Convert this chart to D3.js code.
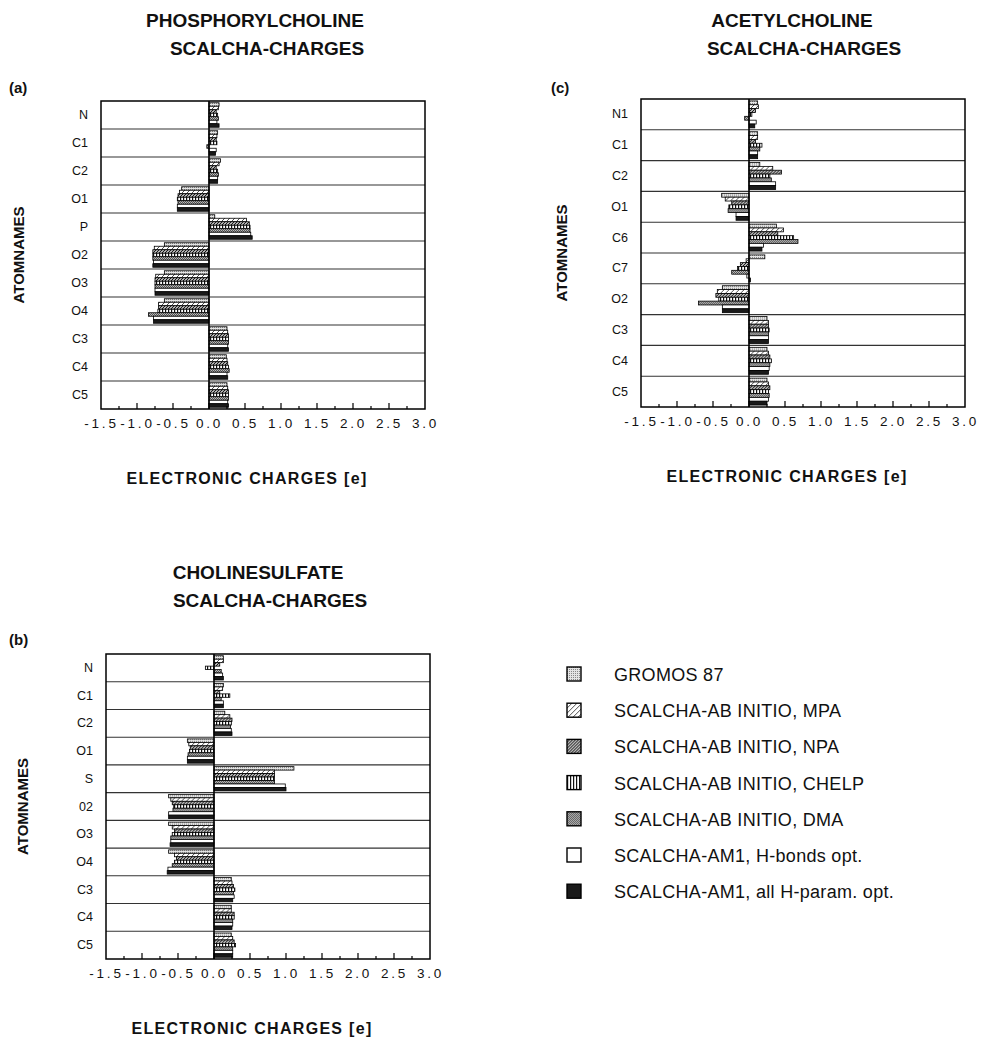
<!DOCTYPE html>
<html>
<head>
<meta charset="utf-8">
<script src="https://cdn.jsdelivr.net/npm/d3@7"></script>
<style>
body { margin: 0; background: #fff; }
svg text { font-family: "Liberation Sans", Arial, sans-serif; fill: #111; }
.title { font-size: 19px; font-weight: bold; }
.plabel { font-size: 15px; font-weight: bold; }
.ytitle { font-size: 15px; font-weight: bold; }
.xtitle { font-size: 16px; font-weight: bold; letter-spacing: 1.3px; }
.rowlab { font-size: 12.5px; }
.tick text { font-size: 13.5px; letter-spacing: 2.8px; }
.legtxt { font-size: 18px; letter-spacing: 0.3px; }
</style>
</head>
<body>
<svg id="chart" width="982" height="1043"></svg>
<script>
// series (same order top -> bottom inside every row)
var series = ["GROMOS 87", "SCALCHA-AB INITIO, MPA", "SCALCHA-AB INITIO, NPA",
  "SCALCHA-AB INITIO, CHELP", "SCALCHA-AB INITIO, DMA",
  "SCALCHA-AM1, H-bonds opt.", "SCALCHA-AM1, all H-param. opt."];

var xTicks = [-1.5, -1.0, -0.5, 0.0, 0.5, 1.0, 1.5, 2.0, 2.5, 3.0];

// (a) phosphorylcholine
var atomsA = ["N", "C1", "C2", "O1", "P", "O2", "O3", "O4", "C3", "C4", "C5"];
var chargesA = [
  [0.14, 0.13, 0.10, 0.12, 0.13, 0.11, 0.14],
  [0.12, 0.11, 0.10, 0.11, -0.03, 0.10, 0.09],
  [0.16, 0.14, 0.10, 0.12, 0.13, 0.12, 0.12],
  [-0.38, -0.41, -0.43, -0.44, -0.43, -0.44, -0.44],
  [0.08, 0.52, 0.56, 0.57, 0.57, 0.58, 0.60],
  [-0.62, -0.76, -0.78, -0.78, -0.78, -0.77, -0.78],
  [-0.62, -0.74, -0.75, -0.75, -0.75, -0.75, -0.75],
  [-0.62, -0.70, -0.70, -0.71, -0.84, -0.77, -0.77],
  [0.25, 0.26, 0.27, 0.27, 0.27, 0.26, 0.27],
  [0.24, 0.25, 0.26, 0.27, 0.28, 0.25, 0.26],
  [0.25, 0.26, 0.27, 0.27, 0.27, 0.26, 0.27]
];

// (c) acetylcholine
var atomsC = ["N1", "C1", "C2", "O1", "C6", "C7", "O2", "C3", "C4", "C5"];
var chargesC = [
  [0.12, 0.13, 0.09, 0.04, -0.06, 0.10, 0.08],
  [0.12, 0.12, 0.09, 0.18, 0.15, 0.12, 0.12],
  [0.15, 0.33, 0.45, 0.29, 0.31, 0.37, 0.37],
  [-0.38, -0.33, -0.24, -0.28, -0.29, -0.18, -0.18],
  [0.38, 0.48, 0.40, 0.62, 0.68, 0.20, 0.18],
  [0.22, -0.04, -0.12, -0.16, -0.24, -0.03, 0.02],
  [-0.37, -0.44, -0.46, -0.42, -0.70, -0.37, -0.37],
  [0.25, 0.27, 0.27, 0.28, 0.27, 0.27, 0.27],
  [0.25, 0.27, 0.29, 0.31, 0.29, 0.28, 0.27],
  [0.25, 0.27, 0.29, 0.27, 0.28, 0.27, 0.25]
];

// (b) cholinesulfate
var atomsB = ["N", "C1", "C2", "O1", "S", "02", "O3", "O4", "C3", "C4", "C5"];
var chargesB = [
  [0.13, 0.13, 0.08, -0.12, 0.10, 0.12, 0.13],
  [0.13, 0.12, 0.08, 0.22, 0.10, 0.13, 0.13],
  [0.15, 0.22, 0.25, 0.24, 0.23, 0.24, 0.25],
  [-0.37, -0.35, -0.33, -0.34, -0.36, -0.37, -0.37],
  [1.11, 0.84, 0.84, 0.84, 0.84, 0.99, 1.00],
  [-0.63, -0.60, -0.58, -0.56, -0.57, -0.63, -0.63],
  [-0.63, -0.58, -0.55, -0.58, -0.60, -0.60, -0.61],
  [-0.63, -0.55, -0.52, -0.55, -0.58, -0.64, -0.65],
  [0.24, 0.25, 0.27, 0.29, 0.27, 0.28, 0.26],
  [0.24, 0.24, 0.28, 0.28, 0.26, 0.26, 0.25],
  [0.24, 0.26, 0.28, 0.30, 0.26, 0.26, 0.26]
];

var svg = d3.select("#chart");
var defs = svg.append("defs");

// fill patterns, one per series
function pat(id, w, h, bg) {
  var p = defs.append("pattern").attr("id", id).attr("patternUnits", "userSpaceOnUse")
    .attr("width", w).attr("height", h);
  p.append("rect").attr("width", w).attr("height", h).attr("fill", bg);
  return p;
}
var p0 = pat("p0", 2, 2, "#e4e4e4");
p0.append("rect").attr("width", 1).attr("height", 1).attr("fill", "#888");
var p1 = pat("p1", 5, 5, "#fff");
p1.append("path").attr("d", "M0,5L5,0").attr("stroke", "#222").attr("stroke-width", 0.8);
var p2 = pat("p2", 3, 3, "#fff");
p2.append("path").attr("d", "M0,3L3,0M-1,1L1,-1M2,4L4,2").attr("stroke", "#111").attr("stroke-width", 1.2);
var p3 = pat("p3", 3, 3, "#fff");
p3.append("rect").attr("width", 1.2).attr("height", 3).attr("fill", "#111");
var p4 = pat("p4", 2, 2, "#555");
p4.append("rect").attr("width", 1).attr("height", 1).attr("fill", "#bbb");
p4.append("rect").attr("x", 1).attr("y", 1).attr("width", 1).attr("height", 1).attr("fill", "#bbb");
var fills = ["url(#p0)", "url(#p1)", "url(#p2)", "url(#p3)", "url(#p4)", "#fff", "#1a1a1a"];

function drawPanel(cfg) {
  var x = d3.scaleLinear().domain([-1.5, 3.0]).range([cfg.left, cfg.left + 324]);
  var y = d3.scaleBand().domain(cfg.atoms).range([cfg.top, cfg.bottom]);
  var yi = d3.scaleBand().domain(d3.range(series.length)).range([0, y.bandwidth()]).paddingOuter(0.5);
  var g = svg.append("g");

  // titles
  g.append("text").attr("class", "title").attr("x", cfg.tx).attr("y", cfg.ty)
    .attr("text-anchor", "middle").text(cfg.title);
  g.append("text").attr("class", "title").attr("x", cfg.tx + 12).attr("y", cfg.ty + 28)
    .attr("text-anchor", "middle").text("SCALCHA-CHARGES");
  g.append("text").attr("class", "plabel").attr("x", cfg.lx).attr("y", cfg.ly).text(cfg.label);

  // row separators
  g.selectAll(".sep").data(cfg.atoms.slice(1)).join("line")
    .attr("x1", cfg.left).attr("x2", x(3.0))
    .attr("y1", d => y(d)).attr("y2", d => y(d))
    .attr("stroke", "#333").attr("stroke-width", 1.1);

  // bars
  var rows = g.selectAll(".row").data(cfg.atoms).join("g")
    .attr("transform", d => "translate(0," + y(d) + ")");
  rows.selectAll("rect").data((d, i) => cfg.values[i].map((v, k) => ({ v: v, k: k })))
    .join("rect")
    .attr("x", d => x(Math.min(0, d.v)))
    .attr("width", d => Math.abs(x(d.v) - x(0)))
    .attr("y", d => yi(d.k))
    .attr("height", yi.bandwidth())
    .attr("fill", d => fills[d.k])
    .attr("stroke", "#000").attr("stroke-width", 0.8);

  // zero line
  g.append("line").attr("x1", x(0)).attr("x2", x(0)).attr("y1", cfg.top).attr("y2", cfg.bottom)
    .attr("stroke", "#000").attr("stroke-width", 1.6);

  // frame
  g.append("rect").attr("x", cfg.left).attr("y", cfg.top)
    .attr("width", x(3.0) - cfg.left).attr("height", cfg.bottom - cfg.top)
    .attr("fill", "none").attr("stroke", "#000").attr("stroke-width", 1.5);

  // minor ticks inside the bottom frame
  var minor = d3.range(-1.25, 3.0, 0.25);
  g.selectAll(".mt").data(minor).join("line")
    .attr("x1", d => x(d)).attr("x2", d => x(d))
    .attr("y1", cfg.bottom).attr("y2", d => cfg.bottom - (Math.abs(d * 2 - Math.round(d * 2)) < 1e-6 ? 6 : 3))
    .attr("stroke", "#000").attr("stroke-width", 1.2);

  // x tick labels
  var ax = g.append("g").attr("transform", "translate(0," + cfg.bottom + ")")
    .call(d3.axisBottom(x).tickValues(xTicks).tickFormat(d => d.toFixed(1)).tickSize(0).tickPadding(9));
  ax.select(".domain").remove();
  ax.selectAll("text").attr("fill", "#111").attr("font-family", null).attr("font-size", null);

  // row labels
  g.selectAll(".rl").data(cfg.atoms).join("text").attr("class", "rowlab")
    .attr("x", cfg.left - 13).attr("y", d => y(d) + y.bandwidth() / 2 + 4)
    .attr("text-anchor", "end").text(d => d);

  // axis titles
  g.append("text").attr("class", "ytitle").attr("text-anchor", "middle")
    .attr("transform", "translate(" + cfg.yx + "," + ((cfg.top + cfg.bottom) / 2) + ") rotate(-90)")
    .text("ATOMNAMES");
  g.append("text").attr("class", "xtitle").attr("text-anchor", "middle")
    .attr("x", cfg.left + 146).attr("y", cfg.bottom + 75).text("ELECTRONIC CHARGES [e]");
}

drawPanel({ atoms: atomsA, values: chargesA, left: 101, top: 101, bottom: 409,
  title: "PHOSPHORYLCHOLINE", tx: 255, ty: 27, label: "(a)", lx: 9, ly: 93, yx: 24 });
drawPanel({ atoms: atomsC, values: chargesC, left: 641, top: 99, bottom: 407,
  title: "ACETYLCHOLINE", tx: 792, ty: 27, label: "(c)", lx: 551, ly: 93, yx: 567 });
drawPanel({ atoms: atomsB, values: chargesB, left: 106, top: 654, bottom: 959,
  title: "CHOLINESULFATE", tx: 258, ty: 579, label: "(b)", lx: 9, ly: 645, yx: 28 });

// legend
var leg = svg.append("g").selectAll("g").data(series).join("g")
  .attr("transform", (d, i) => "translate(567," + (667 + i * 36.2) + ")");
leg.append("rect").attr("width", 14).attr("height", 14)
  .attr("fill", (d, i) => fills[i]).attr("stroke", "#000").attr("stroke-width", 1.4);
leg.append("text").attr("class", "legtxt").attr("x", 47).attr("y", 14).text(d => d);
</script>
</body>
</html>
